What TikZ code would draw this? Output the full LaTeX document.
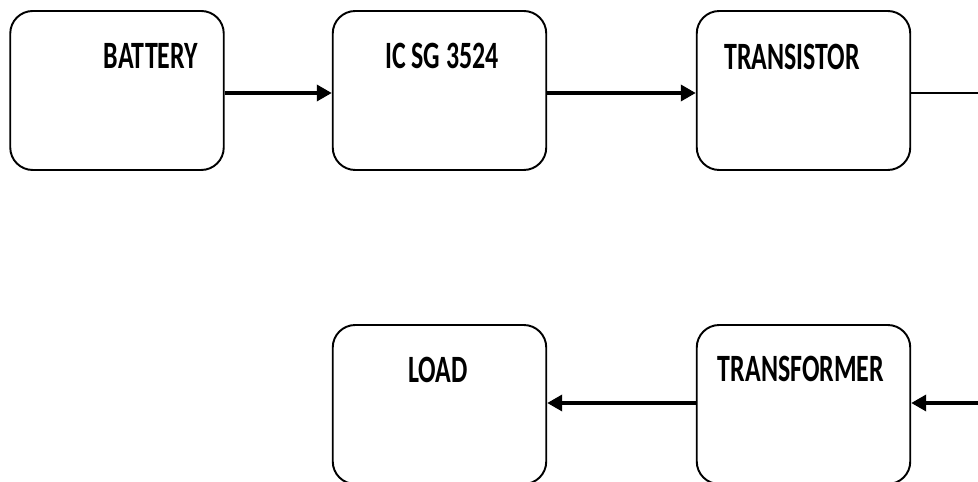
\documentclass[tikz,border=0pt]{standalone}
\usepackage{fontspec}
\newfontfamily\blockfont[FakeStretch=0.67]{Carlito}
\usetikzlibrary{arrows.meta, positioning}

\tikzset{
    block/.style={draw, line width=1.1pt, rounded corners=0.45cm, minimum width=4.27cm, minimum height=3.18cm},
    blocklabel/.style={font=\blockfont\bfseries\fontsize{22}{26}\selectfont, inner sep=0pt},
    flow/.style={line width=2pt, -{Triangle[length=0.3cm, width=0.32cm]}}
}

\begin{document}
\begin{tikzpicture}
    \useasboundingbox (0,0) rectangle (19.56,9.64);

    % Blocks
    \node[block] (battery) at (2.34,7.83) {};
    \node[block] (ic) at (8.79,7.83) {};
    \node[block] (transistor) at (16.07,7.83) {};
    \node[block] (load) at (8.79,1.55) {};
    \node[block] (transformer) at (16.07,1.55) {};

    % Labels
    \node[blocklabel] at (3.02,8.52) {BATTERY};
    \node[blocklabel] at (8.84,8.52) {IC SG 3524};
    \node[blocklabel] at (15.84,8.50) {TRANSISTOR};
    \node[blocklabel] at (8.76,2.24) {LOAD};
    \node[blocklabel] at (16.02,2.26) {TRANSFORMER};

    % Edge points
    \coordinate (outtop) at (19.56,7.78);
    \coordinate (inbottom) at (19.56,1.58);

    % Connections
    \draw[flow] ([yshift=-0.05cm]battery.east) -- ([yshift=-0.05cm]ic.west);
    \draw[flow] ([yshift=-0.05cm]ic.east) -- ([yshift=-0.05cm]transistor.west);
    \draw[line width=1.2pt] (transistor.east |- outtop) -- (outtop);
    \draw[flow] (inbottom) -- (transformer.east |- inbottom);
    \draw[flow] (transformer.west |- inbottom) -- (load.east |- inbottom);
\end{tikzpicture}
\end{document}
